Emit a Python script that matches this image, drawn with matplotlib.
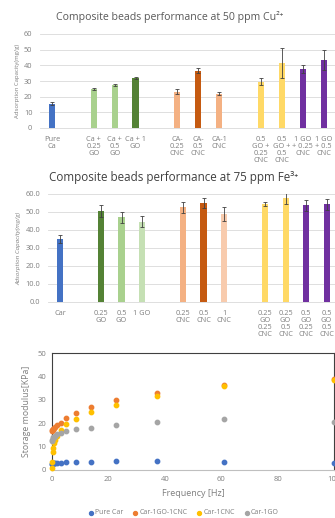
import numpy as np
import matplotlib.pyplot as plt

plt.rcParams['font.family'] = ['Open Sans', 'DejaVu Sans']

# --- panel 1 : 50 ppm Cu2+ ---
cu_labels = ['Pure\nCa', 'Ca +\n0.25\nGO', 'Ca +\n0.5\nGO', 'Ca + 1\nGO',
             'CA-\n0.25\nCNC', 'CA-\n0.5\nCNC', 'CA-1\nCNC',
             '0.5\nGO +\n0.25\nCNC', '0.5\nGO +\n0.5\nCNC',
             '1 GO\n+ 0.25\nCNC', '1 GO\n+ 0.5\nCNC']
cu_vals = [15.5, 25.0, 27.5, 32.0, 23.0, 36.5, 22.0, 29.5, 41.5, 37.5, 43.5]
cu_err = [1.0, 0.8, 0.6, 0.5, 1.6, 1.5, 0.8, 2.2, 9.5, 2.6, 6.6]
cu_groups = [1, 3, 3, 4]

# --- panel 2 : 75 ppm Fe3+ ---
fe_labels = ['Car', '0.25\nGO', '0.5\nGO', '1 GO',
             '0.25\nCNC', '0.5\nCNC', '1\nCNC',
             '0.25\nGO\n0.25\nCNC', '0.25\nGO\n0.5\nCNC',
             '0.5\nGO\n0.25\nCNC', '0.5\nGO\n0.5\nCNC']
fe_vals = [35.0, 50.5, 47.0, 44.7, 52.5, 54.8, 48.8, 54.5, 57.5, 53.8, 54.2]
fe_err = [2.0, 3.3, 3.0, 2.8, 3.2, 2.7, 3.8, 1.0, 3.2, 3.0, 3.0]
fe_groups = [1, 3, 3, 4]

# --- panel 3 : storage modulus ---
freq = [0.1, 0.16, 0.26, 0.43, 0.71, 1.17, 1.91, 3.13, 5.14, 8.43,
        13.8, 22.7, 37.2, 61.0, 100.0]
pure_car = [2.5, 2.6, 2.7, 2.8, 2.9, 3.0, 3.1, 3.2, 3.3, 3.4, 3.6, 3.8, 3.9, 3.5, 3.0]
car_go_cnc = [16.5, 17.0, 17.3, 17.6, 18.0, 18.5, 19.2, 20.0, 22.4, 24.3,
              26.9, 29.9, 33.1, 36.5, 38.8]
car_cnc = [1.0, 3.5, 7.5, 9.5, 11.5, 13.0, 14.5, 17.0, 19.6, 21.7,
           24.7, 27.9, 31.7, 35.7, 38.3]
car_go = [12.5, 13.0, 13.5, 14.0, 14.3, 14.7, 15.2, 15.7, 16.7, 17.6,
          18.1, 19.3, 20.6, 21.7, 20.7]
series_names = ['Pure Car', 'Car-1GO-1CNC', 'Car-1CNC', 'Car-1GO']

blue = '#4472C4'
cu_colors = [blue, '#A9D18E', '#A9D18E', '#548235', '#F4B183', '#C55A11', '#F4B183',
             '#FFD966', '#FFD966', '#7030A0', '#7030A0']
fe_colors = [blue, '#548235', '#A9D18E', '#C5E0B4', '#F4B183', '#C55A11', '#F8CBAD',
             '#FFD966', '#FFD966', '#7030A0', '#7030A0']


def slots(groups):
    # one empty slot between groups
    p, x = [], 0
    for g in groups:
        p += list(range(x, x + g))
        x += g + 1
    return p


def bar_panel(ax, pos, vals, err, colors, labels, fmt):
    ax.bar(pos, vals, width=0.3, color=colors, zorder=3)
    ax.errorbar(pos, vals, yerr=err, fmt='none', ecolor='#404040', elinewidth=0.6,
                capsize=1.6, capthick=0.6, zorder=4)
    ax.set_ylim(0, 60)
    ax.set_yticks(range(0, 61, 10))
    ax.set_yticklabels([fmt.format(v) for v in range(0, 61, 10)])
    ax.set_xticks(pos)
    ax.set_xticklabels(labels, linespacing=1.05, va='top')
    ax.grid(axis='y', color='#D9D9D9', lw=0.6, zorder=0)
    for s in ['top', 'right', 'left']:
        ax.spines[s].set_visible(False)
    ax.spines['bottom'].set_color('#D9D9D9')
    ax.spines['bottom'].set_linewidth(0.6)
    ax.tick_params(length=0, labelsize=5.3, colors='#7F7F7F', pad=5.5)


fig = plt.figure(figsize=(3.35, 5.18), dpi=100)

ax1 = fig.add_axes([40 / 335, 1 - 128 / 518, 295 / 335, 94 / 518])
bar_panel(ax1, slots(cu_groups), cu_vals, cu_err, cu_colors, cu_labels, '{}')
ax1.set_xlim(-0.57, 13.54)
ax1.set_ylabel('Adsorption Capacity(mg/g)', fontsize=4.3, color='#7F7F7F', labelpad=3)
fig.text(170 / 335, 1 - 17 / 518, 'Composite beads performance at 50 ppm Cu²⁺',
         ha='center', va='center', fontsize=7.6, color='#595959')

ax2 = fig.add_axes([48 / 335, 1 - 302 / 518, 287 / 335, 108 / 518])
bar_panel(ax2, slots(fe_groups), fe_vals, fe_err, fe_colors, fe_labels, '{:.1f}')
ax2.set_xlim(-0.585, 13.41)
ax2.set_ylabel('Adsorption Capacity(mg/g)', fontsize=4.5, color='#7F7F7F',
               style='italic', labelpad=3)
fig.text(174 / 335, 1 - 178 / 518, 'Composite beads performance at 75 ppm Fe³⁺',
         ha='center', va='center', fontsize=8.4, color='#404040')

ax3 = fig.add_axes([52 / 335, 1 - 470 / 518, 282 / 335, 117 / 518])
cols = [blue, '#ED7D31', '#FFC000', '#A5A5A5']
for ys, c, n in zip([pure_car, car_go_cnc, car_cnc, car_go], cols, series_names):
    ax3.scatter(freq, ys, s=10, color=c, label=n, zorder=3, clip_on=False)
ax3.set_xlim(0, 100)
ax3.set_ylim(0, 50)
ax3.set_xticks(range(0, 101, 20))
ax3.set_yticks(range(0, 51, 10))
ax3.tick_params(length=0, labelsize=5.5, colors='#7F7F7F', pad=4)
for s in ['top', 'right', 'left']:
    ax3.spines[s].set_color('#404040')
    ax3.spines[s].set_linewidth(0.8)
ax3.spines['bottom'].set_color('#BFBFBF')
ax3.set_xlabel('Frequency [Hz]', fontsize=6.5, color='#7F7F7F', labelpad=5)
ax3.set_ylabel('Storage modulus[KPa]', fontsize=6.3, color='#7F7F7F', labelpad=5)
fig.legend(loc='center', bbox_to_anchor=(183 / 335, 1 - 513 / 518), ncol=4,
           frameon=False, fontsize=5.0, labelcolor='#7F7F7F', handletextpad=0.1,
           columnspacing=1.2, markerscale=0.9, handlelength=1)

fig.savefig('out.png', dpi=100)
